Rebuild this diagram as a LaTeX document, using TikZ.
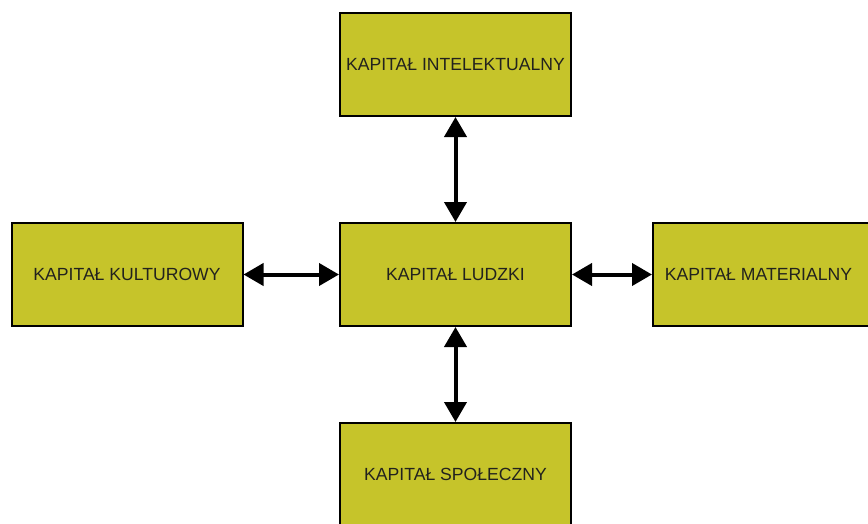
\documentclass[tikz,border=0pt]{standalone}
\usepackage{fontspec}
\setmainfont{Liberation Sans}
\usetikzlibrary{arrows.meta}
\definecolor{boxolive}{RGB}{198,196,42}
\definecolor{textgray}{RGB}{34,34,30}
\begin{document}
\begin{tikzpicture}[x = 1pt, y = -1pt]
            \tikzset{kapital/.style = {draw, line width = 2pt, fill = boxolive, minimum width = 231pt, minimum height = 103pt, inner sep = 0pt, font = \fontsize{17.6}{20}\selectfont, text = textgray},
                     link/.style = {arrows = {Triangle[length = 20pt, width = 22pt]-Triangle[length = 20pt, width = 22pt]}, line width = 4pt}}
            \clip (0, 0) rectangle (868, 523);
            \fill [white] (0, 0) rectangle (868, 523);
            \node [kapital] (ludzki) at (455.5, 274.5) {KAPITAŁ LUDZKI};
            \node [kapital] (intelekt) at (455.5, 64.5) {KAPITAŁ INTELEKTUALNY};
            \node [kapital] (kultura) at (127, 274.5) {KAPITAŁ KULTUROWY};
            \node [kapital] (material) at (768.5, 274.5) {KAPITAŁ MATERIALNY\hspace*{20pt}};
            \node [kapital] (spolecz) at (455.5, 474.5) {KAPITAŁ SPOŁECZNY};

            \draw [link] (intelekt) -- (ludzki);
            \draw [link] (kultura) -- (ludzki);
            \draw [link] (ludzki) -- (material);
            \draw [link] (ludzki) -- (spolecz);
        \end{tikzpicture}
\end{document}
